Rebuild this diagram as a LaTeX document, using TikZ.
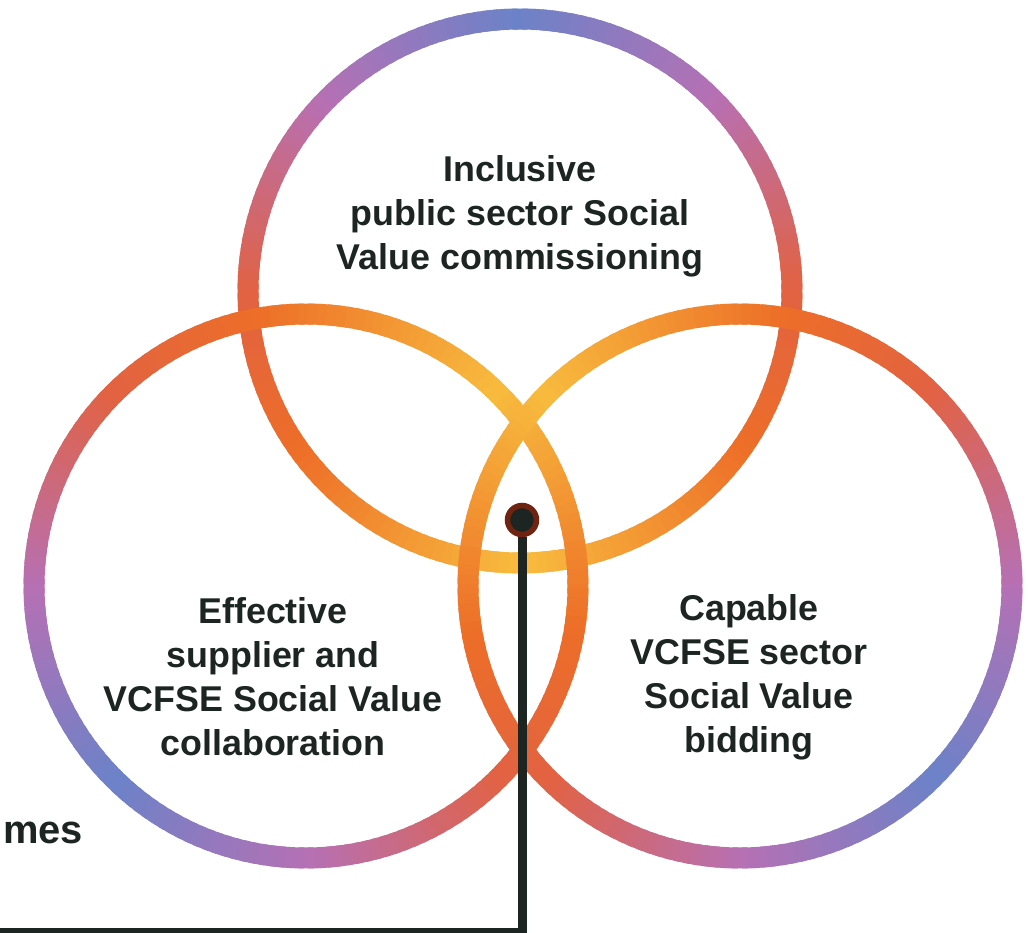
\documentclass[tikz,border=0pt]{standalone}
\usepackage{fontspec}
\newfontfamily\rotulofont{Liberation Sans}
\usetikzlibrary{calc}

\definecolor{azul}{RGB}{108,130,200}
\definecolor{roxo}{RGB}{182,112,180}
\definecolor{vermelho}{RGB}{226,98,66}
\definecolor{laranja}{RGB}{237,110,40}
\definecolor{amarelo}{RGB}{248,188,62}
\definecolor{tinta}{RGB}{28,37,34}
\definecolor{marrom}{RGB}{110,36,16}

\begin{document}
\begin{tikzpicture}[
    x=0.02cm, y=-0.02cm,
    anel/.style={line width=0.42cm},
    rotulo/.style={font=\rotulofont\bfseries\fontsize{20.4}{25}\selectfont, text=tinta, align=center, inner sep=0pt},
    ponto/.style={circle, fill=tinta, draw=marrom, line width=0.11cm, minimum size=0.58cm, inner sep=0pt},
    fio/.style={draw=tinta, line width=0.18cm}
  ]
  \useasboundingbox (0,0) rectangle (1028,933);

  % Circulos: centro e lado azul
  \foreach \nome/\cx/\cy/\fora in {topo/520/291/270, esq/306/586/135, dir/740/586/45}{
    \coordinate (\nome) at (\cx,\cy);
    \foreach \a in {0,2,...,358}{
      \pgfmathsetmacro\d{abs(mod(\a-\fora+540,360)-180)}
      \ifdim\d pt<45pt
        \pgfmathtruncatemacro\t{\d/45*100}
        \colorlet{cor}{roxo!\t!azul}
      \else\ifdim\d pt<90pt
        \pgfmathtruncatemacro\t{(\d-45)/45*100}
        \colorlet{cor}{vermelho!\t!roxo}
      \else\ifdim\d pt<125pt
        \pgfmathtruncatemacro\t{(\d-90)/35*100}
        \colorlet{cor}{laranja!\t!vermelho}
      \else
        \pgfmathtruncatemacro\t{(\d-125)/55*100}
        \colorlet{cor}{amarelo!\t!laranja}
      \fi\fi\fi
      \draw[anel, cor] (\nome) ++(\a-1.6:272) arc[start angle=\a-1.6, end angle=\a+1.6, radius=272];
    }
  }

  \node[rotulo] (inclusivo) at (520,216) {Inclusive\\public sector Social\\Value commissioning};
  \node[rotulo] (colaboracao) at (273,677) {Effective\\supplier and\\VCFSE Social Value\\collaboration};
  \node[rotulo] (licitacao) at (749,677) {Capable\\VCFSE sector\\Social Value\\bidding};
  \node[rotulo, font=\rotulofont\bfseries\fontsize{22.7}{27}\selectfont, anchor=base west] (resultados) at (3,843) {mes};

  % Ponto central e linha
  \node[ponto] (centro) at (522,520) {};
  \coordinate (saida) at (-10,932);
  \draw[fio] (centro.south) |- (saida);
\end{tikzpicture}
\end{document}
